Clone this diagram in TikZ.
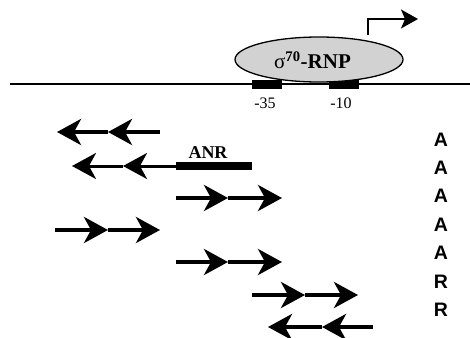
\documentclass[tikz,border=0pt]{standalone}
\usepackage{fontspec}
\setmainfont{Liberation Serif}
\newfontfamily\arialfont{Liberation Sans}
\usetikzlibrary{arrows.meta,shapes.geometric}
\begin{document}
\begin{tikzpicture}[x=1pt,y=-1pt,
  dbl/.style={line width=4pt,-{Stealth[length=24pt,width=26pt,inset=7pt]}},
  thin dbl/.style={line width=3pt,-{Stealth[length=24pt,width=26pt,inset=7pt]}},
  box/.style={fill=black,draw=none,minimum width=30pt,minimum height=9pt,inner sep=0pt},
  lett/.style={font=\arialfont\bfseries\fontsize{19.5}{19.5}\selectfont,inner sep=0pt},
  poslabel/.style={font=\fontsize{16}{16}\selectfont,inner sep=0pt}]
\useasboundingbox (0,0) rectangle (470,337);
% DNA
\coordinate (dnaL) at (10,84);
\coordinate (dnaR) at (470,84);
\draw[line width=1.5pt] (dnaL) -- (dnaR);
\node[box] (b35) at (267,84.5) {};
\node[box] (b10) at (343.5,84.5) {};
\node[poslabel] (t35) at (265,103) {-35};
\node[poslabel] (t10) at (341,103) {-10};
% RNAP
\node[ellipse,draw,line width=1.3pt,fill=gray!35,minimum width=168pt,minimum height=45pt,inner sep=0pt] (rnp) at (319,59.5) {};
\node[font=\fontsize{21}{21}\selectfont,inner sep=0pt] (rnpt) at (312.5,60) {σ\textsuperscript{\bfseries 70}\textbf{-RNP}};
% transcription start
\coordinate (ts0) at (368,35);
\coordinate (ts1) at (368,19);
\coordinate (ts2) at (418,19);
\draw[line width=1.6pt,-{Stealth[length=17pt,width=19pt,inset=4pt]}] (ts0) -- (ts1) -- (ts2);
% row 1
\coordinate (r1a) at (160,132); \coordinate (r1b) at (108,132); \coordinate (r1c) at (57,132);
\draw[dbl] (r1a) -- (r1b); \draw[dbl] (r1b) -- (r1c);
% row 2
\coordinate (anrR) at (252,166); \coordinate (r2a) at (176,166); \coordinate (r2b) at (123,166); \coordinate (r2c) at (72,166);
\draw[line width=8pt] (anrR) -- (r2a);
\draw[thin dbl] (r2a) -- (r2b); \draw[thin dbl] (r2b) -- (r2c);
\node[font=\bfseries\fontsize{18}{18}\selectfont,inner sep=0pt,anchor=base] (anr) at (208,158) {ANR};
% row 3
\coordinate (r3a) at (176,198); \coordinate (r3b) at (228,198); \coordinate (r3c) at (282,198);
\draw[dbl] (r3a) -- (r3b); \draw[dbl] (r3b) -- (r3c);
% row 4
\coordinate (r4a) at (55,230); \coordinate (r4b) at (108,230); \coordinate (r4c) at (160,230);
\draw[dbl] (r4a) -- (r4b); \draw[dbl] (r4b) -- (r4c);
% row 5
\coordinate (r5a) at (176,262); \coordinate (r5b) at (228,262); \coordinate (r5c) at (282,262);
\draw[dbl] (r5a) -- (r5b); \draw[dbl] (r5b) -- (r5c);
% row 6
\coordinate (r6a) at (252,295); \coordinate (r6b) at (305,295); \coordinate (r6c) at (358,295);
\draw[dbl] (r6a) -- (r6b); \draw[dbl] (r6b) -- (r6c);
% row 7
\coordinate (r7a) at (373,327); \coordinate (r7b) at (322,327); \coordinate (r7c) at (268,327);
\draw[dbl] (r7a) -- (r7b); \draw[dbl] (r7b) -- (r7c);
% letters
\node[lett] (L1) at (441,140) {A};
\node[lett] (L2) at (441,168) {A};
\node[lett] (L3) at (441,196) {A};
\node[lett] (L4) at (441,225) {A};
\node[lett] (L5) at (441,253) {A};
\node[lett] (L6) at (441,282) {R};
\node[lett] (L7) at (441,310) {R};
\end{tikzpicture}
\end{document}
